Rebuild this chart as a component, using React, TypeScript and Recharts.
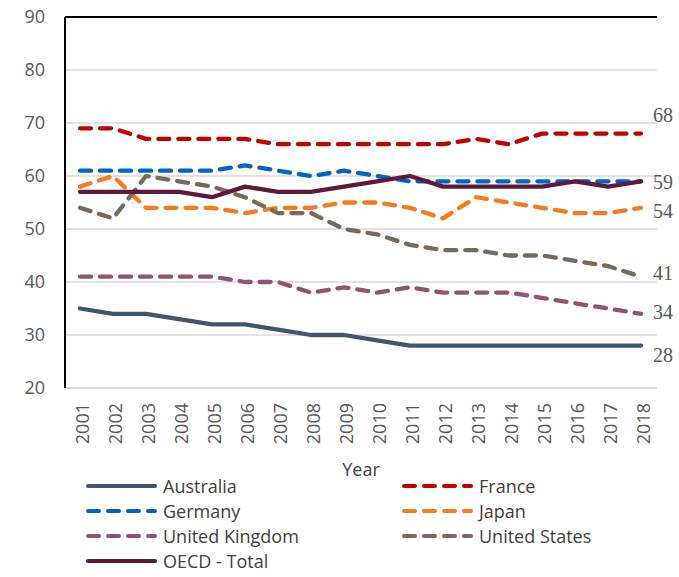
import React from "react";
import { LineChart, Line, XAxis, YAxis, CartesianGrid, Legend, ReferenceLine } from "recharts";

const years = ["2001", "2002", "2003", "2004", "2005", "2006", "2007", "2008", "2009", "2010", "2011", "2012", "2013", "2014", "2015", "2016", "2017", "2018"];
const australia = [35, 34, 34, 33, 32, 32, 31, 30, 30, 29, 28, 28, 28, 28, 28, 28, 28, 28];
const france = [69, 69, 67, 67, 67, 67, 66, 66, 66, 66, 66, 66, 67, 66, 68, 68, 68, 68];
const germany = [61, 61, 61, 61, 61, 62, 61, 60, 61, 60, 59, 59, 59, 59, 59, 59, 59, 59];
const japan = [58, 60, 54, 54, 54, 53, 54, 54, 55, 55, 54, 52, 56, 55, 54, 53, 53, 54];
const unitedKingdom = [41, 41, 41, 41, 41, 40, 40, 38, 39, 38, 39, 38, 38, 38, 37, 36, 35, 34];
const unitedStates = [54, 52, 60, 59, 58, 56, 53, 53, 50, 49, 47, 46, 46, 45, 45, 44, 43, 41];
const oecdTotal = [57, 57, 57, 57, 56, 58, 57, 57, 58, 59, 60, 58, 58, 58, 58, 59, 58, 59];
const yTicks = [20, 30, 40, 50, 60, 70, 80, 90];

const data = years.map((year, i) => ({
  year,
  australia: australia[i],
  france: france[i],
  germany: germany[i],
  japan: japan[i],
  uk: unitedKingdom[i],
  us: unitedStates[i],
  oecd: oecdTotal[i],
}));

// legend order is row by row, two columns
const series = [
  { key: "australia", name: "Australia", color: "#44546a", dash: undefined, labelDy: 9 },
  { key: "france", name: "France", color: "#c00000", dash: "11 9", labelDy: -19 },
  { key: "germany", name: "Germany", color: "#0563c1", dash: "11 9", labelDy: 1 },
  { key: "japan", name: "Japan", color: "#f47b20", dash: "11 9", labelDy: 3 },
  { key: "uk", name: "United Kingdom", color: "#8e5572", dash: "11 9", labelDy: -2 },
  { key: "us", name: "United States", color: "#766a5a", dash: "11 9", labelDy: -4 },
  { key: "oecd", name: "OECD - Total", color: "#5e1a3b", dash: undefined, labelDy: null },
];

const FONT = "'Open Sans', sans-serif";

const YearTick = (props: any) => {
  const { x, y, payload } = props;
  return (
    <text
      transform={`translate(${x + 2},${y + 7}) rotate(-90)`}
      textAnchor="end"
      dominantBaseline="central"
      fill="#595959"
      fontSize={18}
      fontFamily={FONT}
    >
      {payload.value}
    </text>
  );
};

const makeEndLabel = (dy: number | null) => (props: any) => {
  const { x, y, index, value } = props;
  if (dy === null || index !== years.length - 1) return null;
  return (
    <text
      x={x + 12}
      y={y + dy}
      dominantBaseline="central"
      fill="#595959"
      fontSize={20}
      fontFamily="'Liberation Serif', serif"
    >
      {value}
    </text>
  );
};

const LegendBox = () => (
  <div style={{ position: "relative", width: 679, height: 100, fontFamily: FONT }}>
    {series.map((s, i) => (
      <div
        key={s.key}
        style={{
          position: "absolute",
          left: i % 2 === 0 ? 86 : 402,
          top: Math.floor(i / 2) * 25,
          height: 25,
          display: "flex",
          alignItems: "center",
          fontSize: 18,
          color: "#404040",
          whiteSpace: "nowrap",
        }}
      >
        <svg width={71} height={10} style={{ display: "block" }}>
          <line x1={2} y1={5} x2={69} y2={5} stroke={s.color} strokeWidth={4} strokeDasharray={s.dash} strokeLinecap="round" />
        </svg>
        <span style={{ marginLeft: 6 }}>{s.name}</span>
      </div>
    ))}
  </div>
);

export default function App() {
  return (
    <div style={{ position: "absolute", left: 0, top: 0 }}>
      <LineChart width={679} height={577} data={data} margin={{ top: 17, right: 22, left: 0, bottom: 119 }} style={{ fontFamily: FONT }}>
        <CartesianGrid vertical={false} stroke="#d9d9d9" strokeWidth={1.5} />
        <XAxis
          dataKey="year"
          interval={0}
          height={70}
          padding={{ left: 15, right: 16 }}
          tick={<YearTick />}
          tickLine={false}
          axisLine={{ stroke: "#d9d9d9", strokeWidth: 1.5 }}
          label={{ value: "Year", position: "bottom", offset: 5, fill: "#404040", fontSize: 18, fontFamily: FONT }}
        />
        <YAxis
          domain={[20, 90]}
          ticks={yTicks}
          width={65}
          tickLine={false}
          tickMargin={14}
          axisLine={{ stroke: "#000", strokeWidth: 2 }}
          tick={{ fill: "#595959", fontSize: 18, fontFamily: FONT }}
        />
        <YAxis yAxisId="r" orientation="right" width={0} domain={[20, 90]} tick={false} tickLine={false} axisLine={{ stroke: "#000", strokeWidth: 2 }} />
        <ReferenceLine y={90} stroke="#000" strokeWidth={2} />
        {series.map((s) => (
          <Line
            key={s.key}
            type="linear"
            dataKey={s.key}
            name={s.name}
            stroke={s.color}
            strokeWidth={4.3}
            strokeDasharray={s.dash}
            strokeLinecap="round"
            strokeLinejoin="round"
            dot={false}
            activeDot={false}
            isAnimationActive={false}
            label={makeEndLabel(s.labelDy)}
          />
        ))}
        <Legend verticalAlign="middle" content={<LegendBox />} wrapperStyle={{ top: 473, left: 0, width: 679 }} />
      </LineChart>
    </div>
  );
}
